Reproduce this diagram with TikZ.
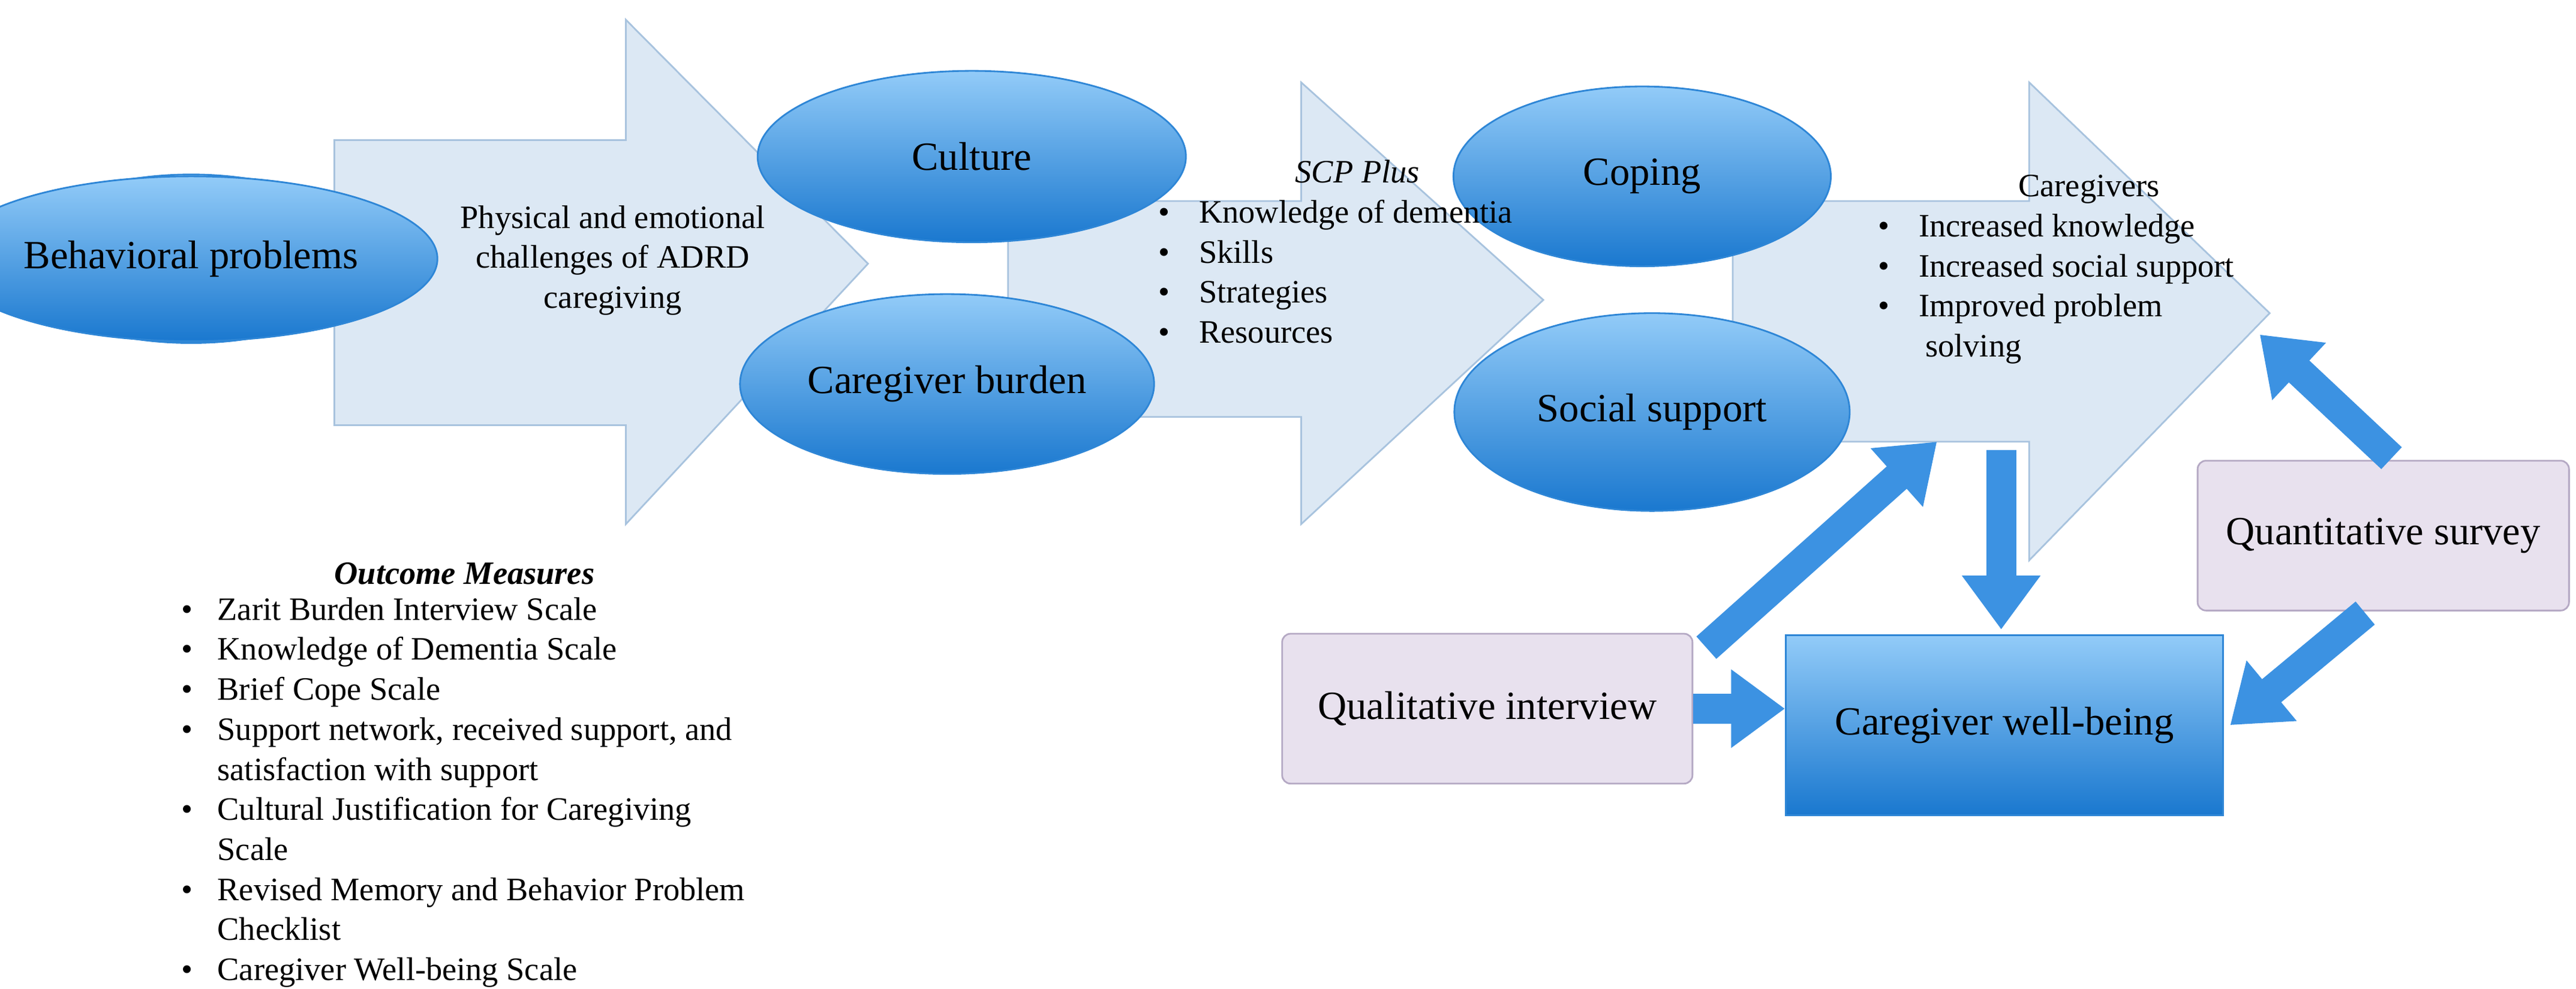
\documentclass[tikz,border=0pt]{standalone}
\usepackage{fontspec}
\setmainfont{Liberation Serif}
\usetikzlibrary{arrows.meta,shapes.geometric}
\definecolor{arrfill}{HTML}{DCE8F4}
\definecolor{arrline}{HTML}{A8C3DE}
\definecolor{lav}{HTML}{E8E1EE}
\definecolor{lavline}{HTML}{B5A9C4}
\definecolor{btop}{HTML}{92CBF8}
\definecolor{bbot}{HTML}{1A78CF}
\definecolor{bline}{HTML}{2E86D6}
\definecolor{thick}{HTML}{3C92E2}
\tikzset{
 bigarrow/.style={fill=arrfill,draw=arrline,line width=0.8pt},
 ell/.style={ellipse,top color=btop,bottom color=bbot,draw=bline,line width=0.8pt,font=\fontsize{19}{22}\selectfont},
 lbox/.style={rectangle,rounded corners=4pt,fill=lav,draw=lavline,line width=0.8pt,font=\fontsize{19}{22}\selectfont},
 bbox/.style={rectangle,top color=btop,bottom color=bbot,draw=bline,line width=0.8pt,font=\fontsize{19}{22}\selectfont},
 fat/.style={draw=thick,line width=0.5cm,-{Triangle[width=1.25cm,length=0.9cm]}},
 txt/.style={font=\fontsize{15.5}{19}\selectfont,align=left,inner sep=0pt}
}
\begin{document}
\begin{tikzpicture}[x=0.0275cm,y=-0.0275cm]
\useasboundingbox (0,0) rectangle (1564,600);
% big arrows
\draw[bigarrow] (203,85)--(380,85)--(380,12)--(527,160)--(380,318)--(380,258)--(203,258)--cycle;
\draw[bigarrow] (612,122)--(790,122)--(790,50)--(937,182)--(790,318)--(790,253)--(612,253)--cycle;
\draw[bigarrow] (1052,122)--(1232,122)--(1232,50)--(1378,190)--(1232,340)--(1232,268)--(1052,268)--cycle;
% ellipses
\node[ell,minimum width=216\pgflinewidth,minimum height=100\pgflinewidth] (bp) at (116,157) {};
\node[ell,minimum width=5.94cm,minimum height=2.75cm] (bp) at (116,157) {Behavioral problems};
\node[ell,minimum width=7.15cm,minimum height=2.86cm] (cu) at (590,95) {Culture};
\node[ell,minimum width=6.5cm,minimum height=3.0cm] (cb) at (575,233) {Caregiver burden};
\node[ell,minimum width=6.3cm,minimum height=3.0cm] (co) at (997,107) {Coping};
\node[ell,minimum width=6.6cm,minimum height=3.3cm] (ss) at (1003,250) {Social support};
% arrow texts
\node[txt,align=center] (t1) at (372,158) {Physical and emotional\\challenges of ADRD\\caregiving};
\node[txt,anchor=north west] (t2) at (703,97) {\hspace*{4.2em}\textit{SCP Plus}\\
\textbullet\hspace{0.9em}Knowledge of dementia\\
\textbullet\hspace{0.9em}Skills\\
\textbullet\hspace{0.9em}Strategies\\
\textbullet\hspace{0.9em}Resources};
\node[txt,anchor=north west] (t3) at (1140,106) {\hspace*{4.3em}Caregivers\\
\textbullet\hspace{0.9em}Increased knowledge\\
\textbullet\hspace{0.9em}Increased social support\\
\textbullet\hspace{0.9em}Improved problem\\
\hspace*{1.45em}solving};
% boxes
\node[lbox,minimum width=6.85cm,minimum height=2.5cm] (qi) at (903,430) {Qualitative interview};
\node[lbox,minimum width=6.2cm,minimum height=2.5cm] (qs) at (1447,325) {Quantitative survey};
\node[bbox,minimum width=7.3cm,minimum height=3.0cm] (wb) at (1217,440) {Caregiver well-being};
% fat arrows
\coordinate (a1s) at (1036,393); \coordinate (a1e) at (1176,268);
\draw[fat] (a1s)--(a1e);
\coordinate (a2s) at (1215,273); \coordinate (a2e) at (1215,382);
\draw[fat] (a2s)--(a2e);
\coordinate (a3s) at (1452,278); \coordinate (a3e) at (1372,203);
\draw[fat] (a3s)--(a3e);
\draw[fat] (qi.east|-1030,430)--(wb.west|-1085,430);
\coordinate (a5s) at (1436,372); \coordinate (a5e) at (1354,440);
\draw[fat] (a5s)--(a5e);
% outcome measures
\node[txt,align=center,font=\fontsize{15.5}{19}\selectfont\bfseries\itshape] (om) at (282,348) {Outcome Measures};
\node[txt,anchor=north west] (oml) at (110,359) {%
\begin{tabular}{@{}l@{\hspace{0.75em}}l@{}}
\textbullet & Zarit Burden Interview Scale\\
\textbullet & Knowledge of Dementia Scale\\
\textbullet & Brief Cope Scale\\
\textbullet & Support network, received support, and\\
 & satisfaction with support\\
\textbullet & Cultural Justification for Caregiving\\
 & Scale\\
\textbullet & Revised Memory and Behavior Problem\\
 & Checklist\\
\textbullet & Caregiver Well-being Scale
\end{tabular}};
\end{tikzpicture}
\end{document}
